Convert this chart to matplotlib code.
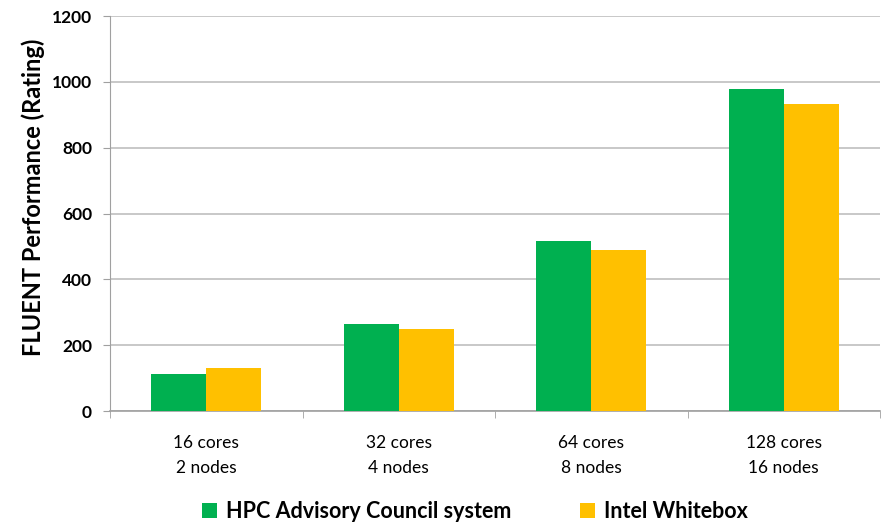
import numpy as np
import matplotlib.pyplot as plt

categories = ['16 cores\n2 nodes', '32 cores\n4 nodes', '64 cores\n8 nodes', '128 cores\n16 nodes']
hpc_values = [112, 263, 517, 978]
intel_values = [131, 249, 490, 934]
series_names = ['HPC Advisory Council system', 'Intel Whitebox']

plt.rcParams['font.family'] = ['Lato', 'DejaVu Sans']

fig = plt.figure(figsize=(8.81, 5.23), dpi=100)
ax = fig.add_axes([0.1249, 0.2141, 0.874, 0.7553])

x = np.arange(len(categories))
w = 0.286
ax.bar(x - w / 2, hpc_values, w, color='#00B050', label=series_names[0], zorder=3)
ax.bar(x + w / 2, intel_values, w, color='#FFC000', label=series_names[1], zorder=3)

ax.set_xlim(-0.5, len(categories) - 0.5)
ax.set_ylim(0, 1200)
ax.set_yticks(range(0, 1201, 200))
ax.yaxis.grid(True, color='#BFBFBF', linewidth=1.2, zorder=0)
ax.set_xticks(x)
ax.set_xticklabels(categories, fontsize=12.5, linespacing=1.75)
ax.set_xticks(np.arange(-0.5, len(categories), 1.0), minor=True)
ax.tick_params(axis='x', which='major', length=0, pad=17)
ax.tick_params(axis='x', which='minor', length=5, color='#A0A0A0')
ax.tick_params(axis='y', length=5, color='#A0A0A0', labelsize=12.5, pad=8)
for lab in ax.get_yticklabels():
    lab.set_fontweight('bold')

for s in ['top', 'right']:
    ax.spines[s].set_visible(False)
ax.spines['left'].set_color('#A0A0A0')
ax.spines['bottom'].set_color('#A0A0A0')
ax.spines['bottom'].set_linewidth(1.2)

ax.set_ylabel('FLUENT Performance (Rating)', fontsize=17, fontweight='bold')
ax.yaxis.set_label_coords(-0.084, 0.54)

ax.legend(loc='lower center', bbox_to_anchor=(0.474, -0.33), ncol=2, frameon=False,
          handlelength=0.7, handleheight=0.7, columnspacing=3.2, handletextpad=0.4,
          prop={'weight': 'bold', 'size': 15.5})

plt.savefig('out.png', dpi=100)
